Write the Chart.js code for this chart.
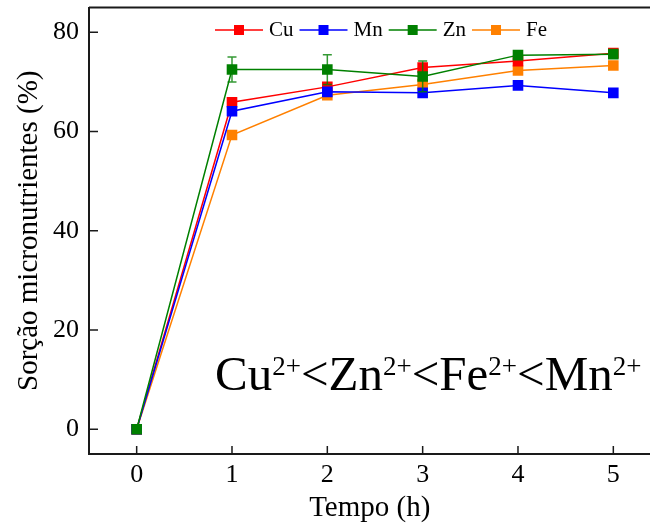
<!DOCTYPE html>
<html>

<head>
    <meta charset="utf-8">
    <title>Sorção micronutrientes</title>
    <style>
        html, body { margin: 0; padding: 0; background: #fff; overflow: hidden; }
        /* plot frame runs past the right edge of the picture, as in the original */
        .wrap { position: relative; width: 658px; height: 527px; }
    </style>
</head>

<body>
    <div class="wrap"><canvas id="myChart1"></canvas></div>
    <script src="https://cdn.jsdelivr.net/npm/chart.js@4.4.6/dist/chart.umd.min.js"></script>
    <script>
        // data
        const tempo = [0, 1, 2, 3, 4, 5]
        const cu = [0, 65.9, 69.0, 72.9, 74.2, 75.8]
        const mn = [0, 64.1, 68.0, 67.8, 69.3, 67.8]
        const zn = [0, 72.5, 72.5, 71.1, 75.4, 75.6]
        const fe = [0, 59.3, 67.3, 69.5, 72.3, 73.3]
        const znErr = [0, 2.5, 3.0, 3.1, 0, 0]
        const xTicks = [0, 1, 2, 3, 4, 5]
        const yTicks = [0, 20, 40, 60, 80]
        const names = ["Cu", "Mn", "Zn", "Fe"]
        const colors = ["#ff0000", "#0000ff", "#008000", "#ff8000"]
        const ions = ["Cu", "Zn", "Fe", "Mn"]

        const FONT = '"Liberation Serif", "Times New Roman", serif'
        const INK = "#1a1a1a"

        const extras = {
            id: "extras",
            afterDatasetsDraw(chart) {
                const { ctx, scales: { x, y } } = chart
                ctx.save()
                ctx.strokeStyle = "rgba(0,128,0,0.8)"
                ctx.lineWidth = 1.5
                tempo.forEach((t, i) => {
                    if (!znErr[i]) return
                    const px = x.getPixelForValue(t)
                    const top = y.getPixelForValue(zn[i] + znErr[i])
                    const bot = y.getPixelForValue(zn[i] - znErr[i])
                    ctx.beginPath()
                    ctx.moveTo(px, top); ctx.lineTo(px, bot)
                    ctx.moveTo(px - 4.5, top); ctx.lineTo(px + 4.5, top)
                    ctx.moveTo(px - 4.5, bot); ctx.lineTo(px + 4.5, bot)
                    ctx.stroke()
                })
                ctx.restore()
            },
            afterDraw(chart) {
                const { ctx, chartArea: a, scales: { x, y } } = chart
                ctx.save()
                // top frame line
                ctx.strokeStyle = INK
                ctx.lineWidth = 2
                ctx.beginPath()
                ctx.moveTo(a.left, a.top); ctx.lineTo(a.right, a.top)
                ctx.stroke()
                // inward tick marks
                ctx.lineWidth = 1.5
                ctx.beginPath()
                x.ticks.forEach(t => {
                    const px = x.getPixelForValue(t.value)
                    ctx.moveTo(px, a.bottom); ctx.lineTo(px, a.bottom - 8)
                })
                y.ticks.forEach(t => {
                    const py = y.getPixelForValue(t.value)
                    ctx.moveTo(a.left, py); ctx.lineTo(a.left + 9, py)
                })
                ctx.stroke()

                // legend: line + square + label
                let lx = 215
                const ly = 30
                ctx.font = `21px ${FONT}`
                ctx.textBaseline = "alphabetic"
                names.forEach((n, i) => {
                    ctx.strokeStyle = colors[i]
                    ctx.lineWidth = 1.5
                    ctx.beginPath()
                    ctx.moveTo(lx, ly); ctx.lineTo(lx + 48, ly)
                    ctx.stroke()
                    ctx.fillStyle = colors[i]
                    ctx.fillRect(lx + 19, ly - 5, 10, 10)
                    ctx.fillStyle = "#000"
                    ctx.fillText(n, lx + 54, ly + 6)
                    lx += 54 + ctx.measureText(n).width + 6
                })

                // Cu2+<Zn2+<Fe2+<Mn2+
                let ax = 215
                const base = 390
                ctx.fillStyle = "#000"
                ions.forEach((ion, i) => {
                    const main = (i ? "<" : "") + ion
                    ctx.font = `49px ${FONT}`
                    ctx.fillText(main, ax, base)
                    ax += ctx.measureText(main).width
                    ctx.font = `27px ${FONT}`
                    ctx.fillText("2+", ax, base - 15)
                    ax += ctx.measureText("2+").width
                })
                ctx.restore()
            },
        }

        const series = [cu, mn, zn, fe]
        const drawOrder = [2, 1, 0, 3]

        new Chart(document.getElementById("myChart1"), {
            type: "line",
            data: {
                datasets: series.map((s, i) => ({
                    label: names[i],
                    data: tempo.map((t, j) => ({ x: t, y: s[j] })),
                    borderColor: colors[i],
                    backgroundColor: colors[i],
                    borderWidth: 1.5,
                    pointStyle: "rect",
                    pointRadius: 7.5,
                    pointBorderWidth: 0,
                    tension: 0,
                    order: drawOrder[i],
                })),
            },
            options: {
                responsive: true,
                maintainAspectRatio: false,
                animation: false,
                layout: { padding: { top: 7.5, right: 0, left: 0, bottom: 0 } },
                plugins: {
                    legend: { display: false },
                    tooltip: { enabled: false },
                },
                scales: {
                    x: {
                        type: "linear",
                        min: -0.5,
                        max: 5.39,
                        afterBuildTicks: s => { s.ticks = xTicks.map(v => ({ value: v })) },
                        afterFit: s => { s.height = 73; s.paddingLeft = 0; s.paddingRight = 0 },
                        grid: { display: false, drawTicks: false },
                        border: { display: true, color: INK, width: 2 },
                        ticks: { color: "#000", padding: 6, font: { family: FONT, size: 26 } },
                        title: {
                            display: true,
                            text: "Tempo (h)",
                            color: "#000",
                            font: { family: FONT, size: 29 },
                            padding: { top: 0, bottom: 1.5 },
                        },
                    },
                    y: {
                        min: -5,
                        max: 85,
                        afterBuildTicks: s => { s.ticks = yTicks.map(v => ({ value: v })) },
                        afterFit: s => { s.width = 89; s.paddingTop = 0; s.paddingBottom = 0 },
                        grid: { display: false, drawTicks: false },
                        border: { display: true, color: INK, width: 2 },
                        ticks: { color: "#000", padding: 10, font: { family: FONT, size: 26 } },
                        title: {
                            display: true,
                            text: "Sorção micronutrientes (%)",
                            color: "#000",
                            font: { family: FONT, size: 29 },
                            padding: { top: 11.5, bottom: 0 },
                        },
                    },
                },
            },
            plugins: [extras],
        })
    </script>
</body>

</html>
